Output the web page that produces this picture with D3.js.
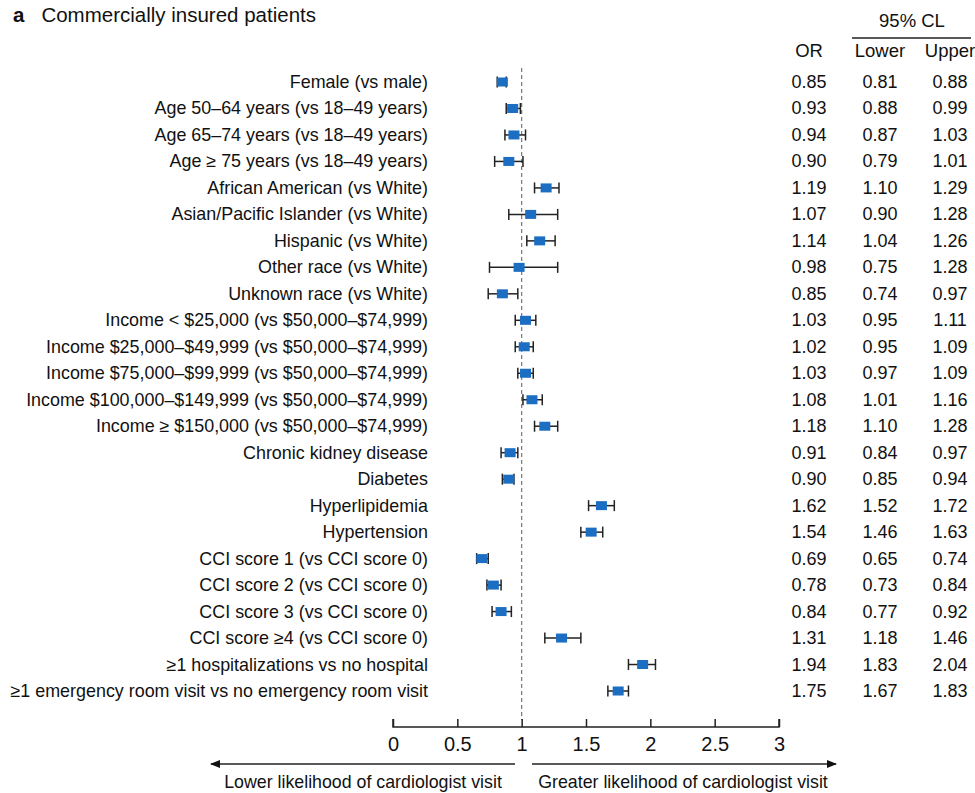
<!DOCTYPE html>
<html>
<head>
<meta charset="utf-8">
<script src="https://d3js.org/d3.v7.min.js"></script>
<style>
  body { margin: 0; background: #fff; }
  text { font-family: "Liberation Sans", Arial, sans-serif; fill: #111; }
</style>
</head>
<body>
<script>
const labels = [
  "Female (vs male)",
  "Age 50–64 years (vs 18–49 years)",
  "Age 65–74 years (vs 18–49 years)",
  "Age \u2265 75 years (vs 18–49 years)",
  "African American (vs White)",
  "Asian/Pacific Islander (vs White)",
  "Hispanic (vs White)",
  "Other race (vs White)",
  "Unknown race (vs White)",
  "Income < $25,000 (vs $50,000–$74,999)",
  "Income $25,000–$49,999 (vs $50,000–$74,999)",
  "Income $75,000–$99,999 (vs $50,000–$74,999)",
  "Income $100,000–$149,999 (vs $50,000–$74,999)",
  "Income \u2265 $150,000 (vs $50,000–$74,999)",
  "Chronic kidney disease",
  "Diabetes",
  "Hyperlipidemia",
  "Hypertension",
  "CCI score 1 (vs CCI score 0)",
  "CCI score 2 (vs CCI score 0)",
  "CCI score 3 (vs CCI score 0)",
  "CCI score \u22654 (vs CCI score 0)",
  "\u22651 hospitalizations vs no hospital",
  "\u22651 emergency room visit vs no emergency room visit"
]
const or    = [0.85,0.93,0.94,0.90,1.19,1.07,1.14,0.98,0.85,1.03,1.02,1.03,1.08,1.18,0.91,0.90,1.62,1.54,0.69,0.78,0.84,1.31,1.94,1.75]
const lower = [0.81,0.88,0.87,0.79,1.10,0.90,1.04,0.75,0.74,0.95,0.95,0.97,1.01,1.10,0.84,0.85,1.52,1.46,0.65,0.73,0.77,1.18,1.83,1.67]
const upper = [0.88,0.99,1.03,1.01,1.29,1.28,1.26,1.28,0.97,1.11,1.09,1.09,1.16,1.28,0.97,0.94,1.72,1.63,0.74,0.84,0.92,1.46,2.04,1.83]
const ticks = [0, 0.5, 1, 1.5, 2, 2.5, 3]

const W = 975, H = 793
const svg = d3.select('body').append('svg').attr('width', W).attr('height', H)

const x = d3.scaleLinear().domain([0, 3]).range([393, 779])
const y = d3.scalePoint().domain(d3.range(labels.length)).range([82, 691])

// title
const t = svg.append('text').attr('x', 13).attr('y', 22).style('font-size', '20.5px')
t.append('tspan').style('font-weight', 'bold').text('a')
t.append('tspan').attr('dx', 17).text('Commercially insured patients')

// table header
const cols = [809, 880, 950]
svg.append('text').attr('x', 912).attr('y', 27).attr('text-anchor', 'middle')
  .style('font-size', '18.5px').text('95% CL')
svg.append('line').attr('x1', 852).attr('x2', 971).attr('y1', 38).attr('y2', 38)
  .attr('stroke', '#222').attr('stroke-width', 1.3)
;['OR', 'Lower', 'Upper'].forEach((h, i) => {
  svg.append('text').attr('x', cols[i]).attr('y', 57).attr('text-anchor', 'middle')
    .style('font-size', '18.5px').text(h)
})

// reference line at 1
svg.append('line').attr('x1', x(1)).attr('x2', x(1)).attr('y1', 68).attr('y2', 720)
  .attr('stroke', '#777').attr('stroke-width', 1.2).attr('stroke-dasharray', '4,3')

const rows = svg.append('g').selectAll('g').data(labels).join('g')
  .attr('transform', (d, i) => `translate(0,${y(i)})`)

rows.append('text').attr('x', 428).attr('y', 6).attr('text-anchor', 'end')
  .style('font-size', '17.9px').text(d => d)

rows.append('line').attr('x1', (d, i) => x(lower[i])).attr('x2', (d, i) => x(upper[i]))
  .attr('stroke', '#222').attr('stroke-width', 1.5)
rows.append('line').attr('x1', (d, i) => x(lower[i])).attr('x2', (d, i) => x(lower[i]))
  .attr('y1', -5.5).attr('y2', 5.5).attr('stroke', '#222').attr('stroke-width', 1.5)
rows.append('line').attr('x1', (d, i) => x(upper[i])).attr('x2', (d, i) => x(upper[i]))
  .attr('y1', -5.5).attr('y2', 5.5).attr('stroke', '#222').attr('stroke-width', 1.5)
rows.append('rect').attr('x', (d, i) => x(or[i]) - 5.5).attr('y', -4.5)
  .attr('width', 11).attr('height', 9).attr('fill', '#1b6ec2')

const fmt = d3.format('.2f')
;[or, lower, upper].forEach((arr, c) => {
  rows.append('text').attr('x', cols[c]).attr('y', 6).attr('text-anchor', 'middle')
    .style('font-size', '18px').text((d, i) => fmt(arr[i]))
})

// x axis, ticks pointing up
const ax = svg.append('g').attr('transform', 'translate(0,727)')
  .call(d3.axisTop(x).tickValues(ticks).tickSize(8).tickFormat(d3.format('')))
ax.select('.domain').attr('stroke', '#222').attr('stroke-width', 1.5)
  .attr('d', `M${x(0)},-8V0H${x(3)}V-8`)
ax.selectAll('.tick line').attr('stroke', '#222').attr('stroke-width', 1.5)
ax.selectAll('.tick text').attr('y', 18).attr('dy', '0.32em')
  .style('font-size', '20px').style('font-family', '"Liberation Sans", Arial, sans-serif').attr('fill', '#111')

// direction arrows
const defs = svg.append('defs')
defs.append('marker').attr('id', 'ah').attr('viewBox', '0 0 10 10').attr('refX', 9).attr('refY', 5)
  .attr('markerWidth', 10).attr('markerHeight', 10).attr('markerUnits', 'userSpaceOnUse')
  .attr('orient', 'auto')
  .append('path').attr('d', 'M0,1L10,5L0,9Z').attr('fill', '#111')

svg.append('line').attr('x1', 515).attr('x2', 211).attr('y1', 764).attr('y2', 764)
  .attr('stroke', '#222').attr('stroke-width', 1.5).attr('marker-end', 'url(#ah)')
svg.append('line').attr('x1', 532).attr('x2', 836).attr('y1', 764).attr('y2', 764)
  .attr('stroke', '#222').attr('stroke-width', 1.5).attr('marker-end', 'url(#ah)')
svg.append('text').attr('x', 363).attr('y', 788).attr('text-anchor', 'middle')
  .style('font-size', '17.8px').text('Lower likelihood of cardiologist visit')
svg.append('text').attr('x', 683).attr('y', 788).attr('text-anchor', 'middle')
  .style('font-size', '17.8px').text('Greater likelihood of cardiologist visit')
</script>
</body>
</html>
